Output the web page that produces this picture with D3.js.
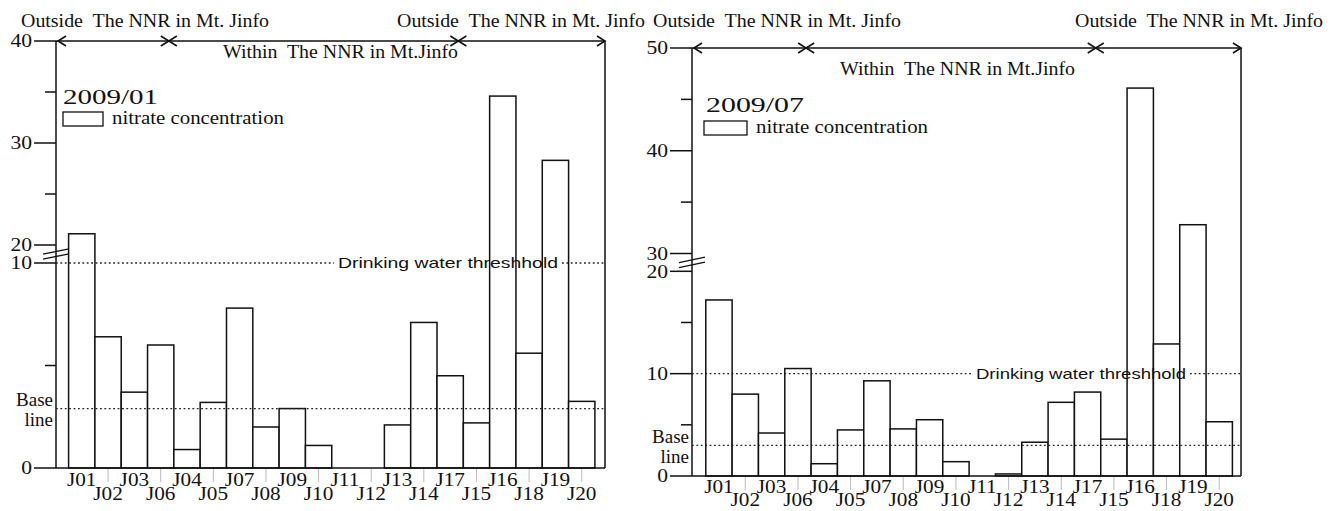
<!DOCTYPE html>
<html>
<head>
<meta charset="utf-8">
<script src="https://cdn.jsdelivr.net/npm/d3@7"></script>
<style>
body{margin:0;background:#fff}
svg{display:block}
text{font-family:"Liberation Serif","Times New Roman",serif;fill:#111;white-space:pre}
text.sans{font-family:"Liberation Sans",Arial,sans-serif}
</style>
</head>
<body>
<svg width="1337" height="511"></svg>
<script>
// sites in the order they sit along the x axis
const sites = ['J01','J02','J03','J06','J04','J05','J07','J08','J09','J10','J11','J12','J13','J14','J17','J15','J16','J18','J19','J20']
// nitrate concentration, 2009/01 and 2009/07
const janValues = [21.1,6.4,3.7,6.0,0.9,3.2,7.8,2.0,2.9,1.1,0,0,2.1,7.1,4.5,2.2,34.6,5.6,28.3,3.25]
const julValues = [17.2,8.0,4.2,10.5,1.2,4.5,9.3,4.6,5.5,1.4,0,0.2,3.3,7.2,8.2,3.6,46.1,12.9,32.8,5.3]
const janTicks = [0,5,10,20,25,30,35,40]
const julTicks = [0,5,10,15,20,30,35,40,45,50]
const janLabels = [0,10,20,30,40]
const julLabels = [0,10,20,30,40,50]
const threshold = 10
const janBase = 2.9
const julBase = 3.0
const withinSites = ['J04','J17']   // first and last site inside the reserve
const outsideText = 'Outside  The NNR in Mt. Jinfo'
const withinText = 'Within  The NNR in Mt.Jinfo'
const thresholdText = 'Drinking water threshhold'
const legendText = 'nitrate concentration'

const svg = d3.select('svg')

function fit(sel,len){
  sel.attr('textLength',len).attr('lengthAdjust','spacingAndGlyphs')
}
function stretch(sel,k){
  sel.each(function(){
    this.setAttribute('textLength',this.getComputedTextLength()*k)
    this.setAttribute('lengthAdjust','spacingAndGlyphs')
  })
}

function panel(o){
  const g = svg.append('g')
  const x = d3.scaleBand().domain(sites).range(o.bars)
  const lo = d3.scaleLinear().domain(o.lowDomain).range(o.lowRange)
  const hi = d3.scaleLinear().domain(o.highDomain).range(o.highRange)
  const y = v => v <= o.lowDomain[1] ? lo(v) : hi(v)
  const x0 = o.axis, x1 = o.frame, y0 = lo(0), yTop = hi(o.highDomain[1])
  const bw = x.bandwidth()

  /* bars */
  g.selectAll('.bar').data(o.values)
    .enter().append('rect').classed('bar',true)
    .attr('x',(d,i) => x(sites[i]))
    .attr('width',bw)
    .attr('y',d => y(d))
    .attr('height',d => y0 - y(d))
    .attr('fill','#fff')
    .attr('stroke','#111')
    .attr('stroke-width',1.5)

  /* frame */
  const line = (a,b,c,d) => g.append('line')
    .attr('x1',a).attr('y1',b).attr('x2',c).attr('y2',d)
    .attr('stroke','#111').attr('stroke-width',1.5)
  line(x0,yTop,x0,y0)
  line(x1,yTop,x1,y0)
  line(x0,y0,x1,y0)
  line(x0,yTop,x1,yTop)

  /* y ticks */
  g.selectAll('.tick').data(o.ticks)
    .enter().append('line').classed('tick',true)
    .attr('x1',d => x0 - (o.labels.includes(d) ? 22 : 11))
    .attr('x2',x0)
    .attr('y1',d => y(d)).attr('y2',d => y(d))
    .attr('stroke','#111').attr('stroke-width',1.5)
  g.selectAll('.ylab').data(o.labels)
    .enter().append('text').classed('ylab',true)
    .attr('x',x0 - 24)
    .attr('y',d => y(d))
    .attr('dy','0.35em')
    .attr('text-anchor','end')
    .attr('font-size',18)
    .text(d => d)
    .call(stretch,1.2)

  /* axis break */
  const mid = (o.lowRange[1] + o.highRange[0])/2
  ;[-2.5,2.5].forEach(off => {
    g.append('line')
      .attr('x1',x0-13).attr('y1',mid+off+2.7)
      .attr('x2',x0+13).attr('y2',mid+off-2.7)
      .attr('stroke','#111').attr('stroke-width',1.3)
  })

  /* x labels, staggered */
  g.selectAll('.xtick').data(sites.filter((_,i) => i%2))
    .enter().append('line').classed('xtick',true)
    .attr('x1',d => x(d)+bw/2).attr('x2',d => x(d)+bw/2)
    .attr('y1',y0+1).attr('y2',y0+14)
    .attr('stroke','#bbb').attr('stroke-width',1)
  g.selectAll('.xlab').data(sites)
    .enter().append('text').classed('xlab',true)
    .attr('x',d => x(d)+bw/2)
    .attr('y',(d,i) => y0 + (i%2 ? o.rows[1] : o.rows[0]))
    .attr('text-anchor','middle')
    .attr('font-size',18)
    .text(d => d)
    .call(stretch,1.18)

  /* dotted reference lines */
  const dots = (a,b,yy) => g.append('line')
    .attr('x1',a).attr('x2',b).attr('y1',yy).attr('y2',yy)
    .attr('stroke','#222').attr('stroke-width',1.3).attr('stroke-dasharray','1.8,2.6')
  const ty = y(threshold)
  dots(x0,o.thresh[0]-4,ty)
  dots(o.thresh[0]+o.thresh[1]+4,x1,ty)
  g.append('text').classed('sans',true)
    .attr('x',o.thresh[0]).attr('y',ty).attr('dy','0.35em')
    .attr('font-size',15)
    .text(thresholdText)
    .call(fit,o.thresh[1])
  const by = y(o.base)
  dots(x0,x1,by)
  g.append('text')
    .attr('x',x0-3).attr('y',by-2.5)
    .attr('text-anchor','end').attr('font-size',19)
    .text('Base')
  g.append('text')
    .attr('x',x0-3).attr('y',by+17.5)
    .attr('text-anchor','end').attr('font-size',19)
    .text('line')

  /* region arrows */
  const b1 = x(withinSites[0]) - 5
  const b2 = x(withinSites[1]) + bw - 5
  const chevron = (tip,dir) => g.append('path')
    .attr('d',`M${tip-dir*8},${yTop-5}L${tip},${yTop}L${tip-dir*8},${yTop+5}`)
    .attr('fill','none').attr('stroke','#111').attr('stroke-width',1.6)
  chevron(x0+2,-1)
  chevron(b1,1); chevron(b1,-1)
  chevron(b2,1); chevron(b2,-1)
  chevron(x1,1)

  o.outside.forEach(px => {
    g.append('text')
      .attr('x',px).attr('y',26.5)
      .attr('font-size',18)
      .text(outsideText)
      .call(fit,248)
  })
  g.append('text')
    .attr('x',o.within[0]).attr('y',o.within[1])
    .attr('font-size',18)
    .text(withinText)
    .call(fit,235)

  /* legend */
  g.append('text')
    .attr('x',o.title[0]).attr('y',o.title[1])
    .attr('font-size',20)
    .text(o.label)
    .call(fit,o.title[2])
  g.append('rect')
    .attr('x',o.key[0]).attr('y',o.key[1])
    .attr('width',o.key[2]).attr('height',14)
    .attr('fill','#fff').attr('stroke','#111').attr('stroke-width',1.3)
  g.append('text')
    .attr('x',o.key[0]+o.key[2]+9).attr('y',o.key[1]+12)
    .attr('font-size',18)
    .text(legendText)
    .call(fit,172)
}

panel({
  label:'2009/01', values:janValues, ticks:janTicks, labels:janLabels, base:janBase,
  axis:56, frame:605, bars:[68.6,594.9],
  lowDomain:[0,10], lowRange:[468,263],
  highDomain:[20,40], highRange:[245,41],
  thresh:[338,220], rows:[18,32],
  outside:[21,397], within:[223,58.3],
  title:[63,104,95], key:[63,112,40]
})

panel({
  label:'2009/07', values:julValues, ticks:julTicks, labels:julLabels, base:julBase,
  axis:692, frame:1241, bars:[705.8,1232.4],
  lowDomain:[0,20], lowRange:[476,271.3],
  highDomain:[30,50], highRange:[253.5,48],
  thresh:[976,210], rows:[16.5,30],
  outside:[653,1075], within:[840,75],
  title:[706,112,98], key:[704,121,43]
})
</script>
</body>
</html>
